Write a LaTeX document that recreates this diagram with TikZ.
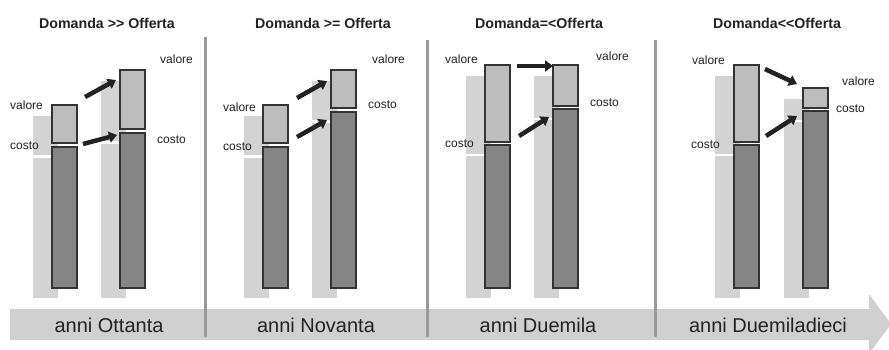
\documentclass[tikz,border=0pt]{standalone}
\usepackage{fontspec}
\setmainfont{Liberation Sans}
\usetikzlibrary{arrows.meta}
\definecolor{shad}{HTML}{D3D3D3}
\definecolor{valc}{HTML}{BDBDBD}
\definecolor{cosc}{HTML}{858585}
\definecolor{edgec}{HTML}{333333}
\definecolor{txtc}{HTML}{222222}
\definecolor{sepc}{HTML}{9A9A9A}
\definecolor{bandc}{HTML}{D0D0D0}
\definecolor{arrc}{HTML}{222222}
\tikzset{
  shadowbox/.style={fill=shad, draw=none},
  valbox/.style={fill=valc, draw=edgec, line width=1.2pt},
  cosbox/.style={fill=cosc, draw=edgec, line width=1.2pt},
  lbl/.style={text=txtc, font=\fontsize{12}{14}\selectfont, inner sep=0pt},
  ttl/.style={text=txtc, font=\bfseries\fontsize{14.2}{16}\selectfont, inner sep=0pt},
  era/.style={text=txtc, font=\fontsize{20}{24}\selectfont, inner sep=0pt},
  sep/.style={draw=sepc, line width=3pt},
  bigarrow/.style={draw=arrc, line width=4.5pt, -{Triangle[length=8pt,width=11pt]}, shorten >=0pt},
}
% x, top, mid1, mid2, name
\newcommand\colbarx[5]{%
  \fill[shadowbox] (#1-19,#2+11) rectangle (#1+6,#3+12);
  \fill[shadowbox] (#1-19,#4+11) rectangle (#1+6,298);
  \draw[valbox] (#1,#2) rectangle (#1+25,#3);
  \draw[cosbox] (#1,#4) rectangle (#1+25,288);
  \coordinate (#5v) at (#1,#2);
}
\begin{document}
\begin{tikzpicture}[x=1pt,y=-1pt]
\useasboundingbox (0,0) rectangle (889,349);
\fill[white] (0,0) rectangle (889,349);
% bottom arrow band
\fill[bandc] (10,309) -- (869,309) -- (869,294) -- (891,324) -- (869,354) -- (869,340) -- (10,340) -- cycle;
% separators
\draw[sep] (205,37) -- (205,337);
\draw[sep] (427,40) -- (427,337);
\draw[sep] (655,40) -- (655,337);
% era labels
\node[era] (e1) at (109,325) {anni Ottanta};
\node[era] (e2) at (316,325) {anni Novanta};
\node[era] (e3) at (538,325) {anni Duemila};
\node[era] (e4) at (768,325) {anni Duemiladieci};
% titles
\node[ttl] (t1) at (107,23) {Domanda >{}> Offerta};
\node[ttl] (t2) at (323,23) {Domanda >= Offerta};
\node[ttl] (t3) at (539,23) {Domanda=<Offerta};
\node[ttl] (t4) at (777,23) {Domanda<{}<Offerta};
% bars
\colbarx{52}{105}{143}{147}{a}
\colbarx{120}{70}{129}{133}{b}
\colbarx{263}{105}{143}{147}{c}
\colbarx{331}{70}{108}{112}{d}
\colbarx{485}{65}{142}{145}{e}
\colbarx{553}{65}{106}{109}{f}
\colbarx{734}{65}{142}{145}{g}
\colbarx{803}{88}{108}{111}{h}
% labels panel 1
\node[lbl, anchor=west] (l1) at (10,105) {valore};
\node[lbl, anchor=west] (l2) at (10,146) {costo};
\node[lbl, anchor=west] (l3) at (160,59) {valore};
\node[lbl, anchor=west] (l4) at (157,140) {costo};
% labels panel 2
\node[lbl, anchor=west] (l5) at (223,107) {valore};
\node[lbl, anchor=west] (l6) at (223,147) {costo};
\node[lbl, anchor=west] (l7) at (372,59) {valore};
\node[lbl, anchor=west] (l8) at (368,105) {costo};
% labels panel 3
\node[lbl, anchor=west] (l9) at (445,59) {valore};
\node[lbl, anchor=west] (l10) at (445,144) {costo};
\node[lbl, anchor=west] (l11) at (596,56) {valore};
\node[lbl, anchor=west] (l12) at (590,103) {costo};
% labels panel 4
\node[lbl, anchor=west] (l13) at (692,60) {valore};
\node[lbl, anchor=west] (l14) at (691,145) {costo};
\node[lbl, anchor=west] (l15) at (842,81) {valore};
\node[lbl, anchor=west] (l16) at (836,109) {costo};
% arrow endpoints
\coordinate (p1s) at (85,97);   \coordinate (p1e) at (116,80);
\coordinate (p2s) at (83,144);  \coordinate (p2e) at (117,135);
\coordinate (p3s) at (297,98);  \coordinate (p3e) at (327,81);
\coordinate (p4s) at (297,137); \coordinate (p4e) at (327,120);
\coordinate (p5s) at (517,66);  \coordinate (p5e) at (553,66);
\coordinate (p6s) at (519,136); \coordinate (p6e) at (549,117);
\coordinate (p7s) at (765,69);  \coordinate (p7e) at (797,84);
\coordinate (p8s) at (766,136); \coordinate (p8e) at (797,116);
\foreach \i in {1,...,8} {\draw[bigarrow] (p\i s) -- (p\i e);}
\end{tikzpicture}
\end{document}
